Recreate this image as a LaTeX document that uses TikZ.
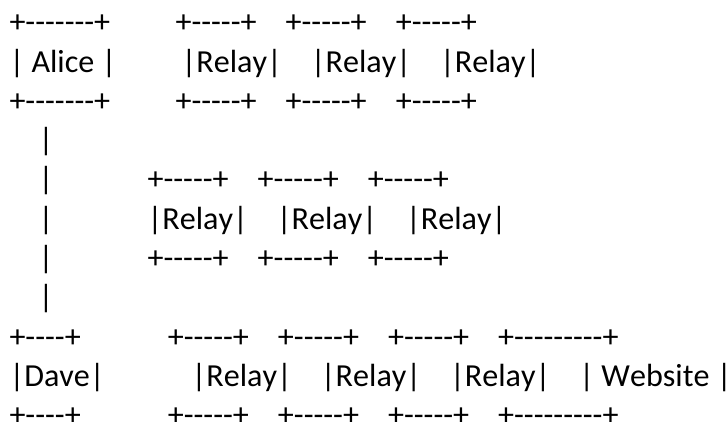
\documentclass[tikz,border=0pt]{standalone}
\usepackage{fontspec}
\newfontfamily\artfont{Carlito}[Ligatures=TeXOff,Kerning=Off]
\newcommand\spc[1]{\hspace*{#1\fontdimen2\font}}
\tikzset{
  artline/.style={anchor=base west, inner sep=0pt, outer sep=0pt,
    font=\artfont\fontsize{32.1bp}{39.3bp}\selectfont, text=black}
}
\begin{document}
\begin{tikzpicture}[x=1bp,y=1bp]
\useasboundingbox[fill=white] (0,0) rectangle (728,-421);
\def\xo{9.5}
\node[artline] (r1) at (\xo,-32.7) {+-------+\spc{9}+-----+\spc{4}+-----+\spc{4}+-----+};
\node[artline] (r2) at (\xo,-72.0) {| Alice |\spc{9}|Relay|\spc{4}|Relay|\spc{4}|Relay|};
\node[artline] (r3) at (\xo,-111.3) {+-------+\spc{9}+-----+\spc{4}+-----+\spc{4}+-----+};
\node[artline] (r4) at (\xo,-150.6) {\spc{4}|};
\node[artline] (r5) at (\xo,-189.9) {\spc{4}|\spc{13}+-----+\spc{4}+-----+\spc{4}+-----+};
\node[artline] (r6) at (\xo,-229.2) {\spc{4}|\spc{13}|Relay|\spc{4}|Relay|\spc{4}|Relay|};
\node[artline] (r7) at (\xo,-268.5) {\spc{4}|\spc{13}+-----+\spc{4}+-----+\spc{4}+-----+};
\node[artline] (r8) at (\xo,-307.8) {\spc{4}|};
\node[artline] (r9) at (\xo,-347.1) {+----+\spc{12}+-----+\spc{4}+-----+\spc{4}+-----+\spc{4}+---------+};
\node[artline] (r10) at (\xo,-386.4) {|Dave|\spc{12}|Relay|\spc{4}|Relay|\spc{4}|Relay|\spc{4}| Website |};
\node[artline] (r11) at (\xo,-425.7) {+----+\spc{12}+-----+\spc{4}+-----+\spc{4}+-----+\spc{4}+---------+};
\end{tikzpicture}
\end{document}
